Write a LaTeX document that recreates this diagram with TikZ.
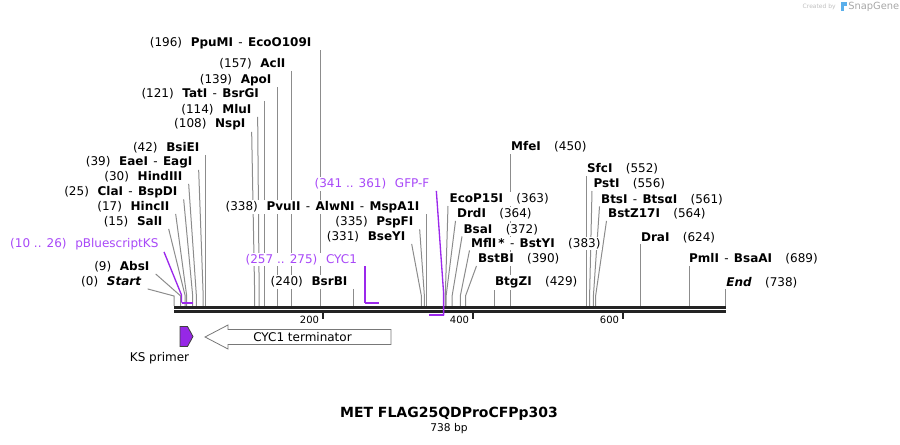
\documentclass[tikz,border=0pt]{standalone}
\usepackage{fontspec}
\setmainfont{DejaVu Sans}
\usetikzlibrary{backgrounds}

\definecolor{sitegray}{RGB}{140,140,140}
\definecolor{dnaline}{RGB}{35,35,35}
\definecolor{primer}{RGB}{155,40,235}
\definecolor{primertext}{RGB}{168,72,248}
\definecolor{ksfill}{RGB}{150,40,230}
\definecolor{termgray}{RGB}{120,120,120}
\definecolor{snapblue}{RGB}{90,175,235}

\newcommand{\nm}[1]{\textbf{#1}}
\newcommand{\lgap}{\hspace{6.5pt}}
\newcommand{\rgap}{\hspace{10pt}}
\newcommand{\enzsep}{\hspace{4pt}-\hspace{4pt}}

\tikzset{
  site/.style={sitegray, line width=0.75pt},
  lbl/.style={fill=white, inner sep=1pt, font=\fontsize{9}{10}\selectfont},
  lbll/.style={lbl, anchor=east},
  lblr/.style={lbl, anchor=west},
  featlbl/.style={lbll, text=primertext},
  featline/.style={primer, line width=1pt},
  featbar/.style={primer, line width=1.5pt},
  dna/.style={dnaline, line width=2pt},
  scaletick/.style={dnaline, line width=1.5pt},
  ticklbl/.style={anchor=east, inner sep=0.5pt, font=\fontsize{7.5}{8}\selectfont},
  featname/.style={inner sep=1pt, font=\fontsize{9}{10}\selectfont},
  primerbox/.style={fill=ksfill, draw=black!75, line width=0.6pt},
  termbox/.style={fill=white, draw=termgray, line width=0.6pt}
}

\begin{document}
\begin{tikzpicture}[x=0.75pt, y=-0.75pt]
\useasboundingbox (0,0) rectangle (900,445);

% cut sites on the top strand
\coordinate (s0) at (174,306);
\coordinate (s9) at (180.7,306);
\coordinate (s15) at (185.2,306);
\coordinate (s17) at (186.7,306);
\coordinate (s25) at (192.7,306);
\coordinate (s30) at (196.4,306);
\coordinate (s39) at (203.2,306);
\coordinate (s42) at (205.4,306);
\coordinate (s108) at (254.7,306);
\coordinate (s114) at (259.2,306);
\coordinate (s121) at (264.4,306);
\coordinate (s139) at (277.9,306);
\coordinate (s157) at (291.4,306);
\coordinate (s196) at (320.5,306);
\coordinate (s240) at (353.4,306);
\coordinate (s331) at (421.4,306);
\coordinate (s335) at (424.4,306);
\coordinate (s338) at (426.7,306);
\coordinate (s363) at (445.3,306);
\coordinate (s364) at (446.1,306);
\coordinate (s372) at (452.1,306);
\coordinate (s383) at (460.3,306);
\coordinate (s390) at (465.5,306);
\coordinate (s429) at (494.7,306);
\coordinate (s450) at (510.4,306);
\coordinate (s552) at (586.6,306);
\coordinate (s556) at (589.6,306);
\coordinate (s561) at (593.4,306);
\coordinate (s564) at (595.6,306);
\coordinate (s624) at (640.4,306);
\coordinate (s689) at (689,306);
\coordinate (s738) at (725.7,306);

% knees of the slanted leaders
\coordinate (k0) at (174,296);
\coordinate (k9) at (180.7,296);
\coordinate (k15) at (185.2,296);
\coordinate (k17) at (186.7,296);
\coordinate (k25) at (192.7,296);
\coordinate (k30) at (196.4,296);
\coordinate (k39) at (203.2,296);
\coordinate (k108) at (254.7,296);
\coordinate (k114) at (259.2,296);
\coordinate (k331) at (421.4,296);
\coordinate (k335) at (424.4,296);
\coordinate (k363) at (445.3,296);
\coordinate (k364) at (446.1,296);
\coordinate (k372) at (452.1,296);
\coordinate (k383) at (460.3,296);
\coordinate (k390) at (465.5,296);
\coordinate (k556) at (589.6,296);
\coordinate (k561) at (593.4,296);
\coordinate (k564) at (595.6,296);

% primer ends
\coordinate (k10) at (181.5,295);
\coordinate (b10) at (181.5,302.7);
\coordinate (b26) at (193.4,302.7);
\coordinate (b257) at (365,302.7);
\coordinate (b275) at (379,302.7);
\coordinate (k361) at (443.6,293);
\coordinate (b361) at (443.6,315.5);
\coordinate (b341) at (428.9,315.5);

% enzymes, left side
\node[lbll] (ppumi) at (313,43) {(196)\lgap\nm{PpuMI}\enzsep\nm{EcoO109I}};
\node[lbll] (acli) at (287,64) {(157)\lgap\nm{AclI}};
\node[lbll] (apoi) at (273,80) {(139)\lgap\nm{ApoI}};
\node[lbll] (tati) at (260.5,94) {(121)\lgap\nm{TatI}\enzsep\nm{BsrGI}};
\node[lbll] (mlui) at (253,110) {(114)\lgap\nm{MluI}};
\node[lbll] (nspi) at (247,124.5) {(108)\lgap\nm{NspI}};
\node[lbll] (bsiei) at (201,148) {(42)\lgap\nm{BsiEI}};
\node[lbll] (eaei) at (194,162.5) {(39)\lgap\nm{EaeI}\enzsep\nm{EagI}};
\node[lbll] (hindiii) at (184,177) {(30)\lgap\nm{HindIII}};
\node[lbll] (clai) at (179,192) {(25)\lgap\nm{ClaI}\enzsep\nm{BspDI}};
\node[lbll] (hincii) at (171,207) {(17)\lgap\nm{HincII}};
\node[lbll] (sali) at (164,222) {(15)\lgap\nm{SalI}};
\node[featlbl] (pbks) at (160,244.5) {(10 .. 26)\lgap pBluescriptKS};
\node[lbll] (absi) at (151,267) {(9)\lgap\nm{AbsI}};
\node[lbll] (start) at (143,282) {(0)\lgap\textbf{\textit{Start}}};

% enzymes, middle
\node[lbll] (pvuii) at (421,207) {(338)\lgap\nm{PvuII}\enzsep\nm{AlwNI}\enzsep\nm{MspA1I}};
\node[lbll] (pspfi) at (415,222) {(335)\lgap\nm{PspFI}};
\node[lbll] (bseyi) at (407,237) {(331)\lgap\nm{BseYI}};
\node[featlbl] (cyc1) at (358.5,259.5) {(257 .. 275)\lgap CYC1};
\node[lbll] (bsrbi) at (349,282) {(240)\lgap\nm{BsrBI}};
\node[featlbl] (gfpf) at (431,184) {(341 .. 361)\lgap GFP-F};

% enzymes, right side
\node[lblr] (ecop15i) at (448,199) {\nm{EcoP15I}\rgap(363)};
\node[lblr] (drdi) at (455.5,214) {\nm{DrdI}\rgap(364)};
\node[lblr] (bsai) at (462,229.5) {\nm{BsaI}\rgap(372)};
\node[lblr] (mfli) at (469.5,243.5) {\nm{MflI\,*}\enzsep\nm{BstYI}\rgap(383)};
\node[lblr] (bstbi) at (476.5,259) {\nm{BstBI}\rgap(390)};
\node[lblr] (btgzi) at (493.5,282.5) {\nm{BtgZI}\rgap(429)};
\node[lblr] (mfei) at (509.5,147) {\nm{MfeI}\rgap(450)};
\node[lblr] (sfci) at (585.5,169) {\nm{SfcI}\rgap(552)};
\node[lblr] (psti) at (592,184) {\nm{PstI}\rgap(556)};
\node[lblr] (btsi) at (599.5,199.5) {\nm{BtsI}\enzsep\nm{BtsαI}\rgap(561)};
\node[lblr] (bstz) at (606.5,214) {\nm{BstZ17I}\rgap(564)};
\node[lblr] (drai) at (639.5,237.5) {\nm{DraI}\rgap(624)};
\node[lblr] (pmli) at (687.5,259) {\nm{PmlI}\enzsep\nm{BsaAI}\rgap(689)};
\node[lblr] (stop) at (724.7,282.5) {\textbf{\textit{End}}\rgap(738)};

\begin{scope}[on background layer]
\draw[site] (s196 |- ppumi.south) -- (s196);
\draw[site] (s157 |- acli.south) -- (s157);
\draw[site] (s139 |- apoi.south) -- (s139);
\draw[site] (s121 |- tati.south) -- (s121);
\draw[site] ([xshift=3.5pt]mlui.south east) -- (k114) -- (s114);
\draw[site] ([xshift=3.5pt]nspi.south east) -- (k108) -- (s108);
\draw[site] (s42 |- bsiei.south) -- (s42);
\draw[site] ([xshift=3.5pt]eaei.south east) -- (k39) -- (s39);
\draw[site] ([xshift=3.5pt]hindiii.south east) -- (k30) -- (s30);
\draw[site] ([xshift=3.5pt]clai.south east) -- (k25) -- (s25);
\draw[site] ([xshift=3.5pt]hincii.south east) -- (k17) -- (s17);
\draw[site] ([xshift=3.5pt]sali.south east) -- (k15) -- (s15);
\draw[site] ([xshift=3.5pt]absi.south east) -- (k9) -- (s9);
\draw[site] ([xshift=3.5pt]start.south east) -- (k0) -- (s0);
\draw[site] (s338 |- pvuii.south) -- (s338);
\draw[site] ([xshift=3.5pt]pspfi.south east) -- (k335) -- (s335);
\draw[site] ([xshift=3.5pt]bseyi.south east) -- (k331) -- (s331);
\draw[site] (s240 |- bsrbi.south) -- (s240);
\draw[site] (ecop15i.south west) -- (k363) -- (s363);
\draw[site] (drdi.south west) -- (k364) -- (s364);
\draw[site] (bsai.south west) -- (k372) -- (s372);
\draw[site] (mfli.south west) -- (k383) -- (s383);
\draw[site] (bstbi.south west) -- (k390) -- (s390);
\draw[site] (s429 |- btgzi.south) -- (s429);
\draw[site] (s450 |- mfei.south) -- (s450);
\draw[site] (s552 |- sfci.south) -- (s552);
\draw[site] (psti.south west) -- (k556) -- (s556);
\draw[site] (btsi.south west) -- (k561) -- (s561);
\draw[site] (bstz.south west) -- (k564) -- (s564);
\draw[site] (s624 |- drai.south) -- (s624);
\draw[site] (s689 |- pmli.south) -- (s689);
\draw[site] (s738 |- stop.south) -- (s738);

\draw[dna] (174,307.3) -- (726,307.3);
\draw[dna] (174,311.3) -- (726,311.3);

\draw[featline] ([xshift=3pt]pbks.south east) -- (k10) -- (b10);
\draw[featbar] (b10) -- (b26);
\draw[featline] (b257 |- cyc1.south) -- (b257);
\draw[featbar] (b257) -- (b275);
\draw[featline] ([xshift=4pt]gfpf.south east) -- (k361) -- (b361);
\draw[featbar] (b341) -- (b361);
\end{scope}

% scale
\draw[scaletick] (322.5,312.5) -- (322.5,319.5);
\draw[scaletick] (472.5,312.5) -- (472.5,319.5);
\draw[scaletick] (622.5,312.5) -- (622.5,319.5);
\node[ticklbl] (t200) at (320,320) {200};
\node[ticklbl] (t400) at (470,320) {400};
\node[ticklbl] (t600) at (620,320) {600};

% features
\draw[primerbox] (180,326.5) -- (187.5,326.5) -- (193,336.5) -- (187.5,346.5) -- (180,346.5) -- cycle;
\draw[termbox] (205,337) -- (228,325) -- (228,329.5) -- (391,329.5) -- (391,344.5) -- (228,344.5) -- (228,349) -- cycle;
\node[featname] (kslbl) at (159.5,358.5) {KS primer};
\node[featname] (termlbl) at (302.5,337) {CYC1 terminator};

\node[font=\fontsize{10.5}{12}\selectfont\bfseries] (title) at (449,413.5) {MET FLAG25QDProCFPp303};
\node[font=\fontsize{8}{9}\selectfont] (seqlen) at (449,428.5) {738 bp};

\node[anchor=east, inner sep=0pt, text=black!25, font=\fontsize{4.5}{5}\selectfont] (createdby) at (836,7) {Created by};
\fill[snapblue] (840.5,2.5) rectangle (846.5,6.5);
\fill[snapblue] (840.5,2.5) rectangle (843.5,11.5);
\node[anchor=west, inner sep=0pt, text=black!35, font=\fontsize{7.4}{8}\selectfont] (snapgene) at (848,7) {SnapGene};
\end{tikzpicture}
\end{document}
